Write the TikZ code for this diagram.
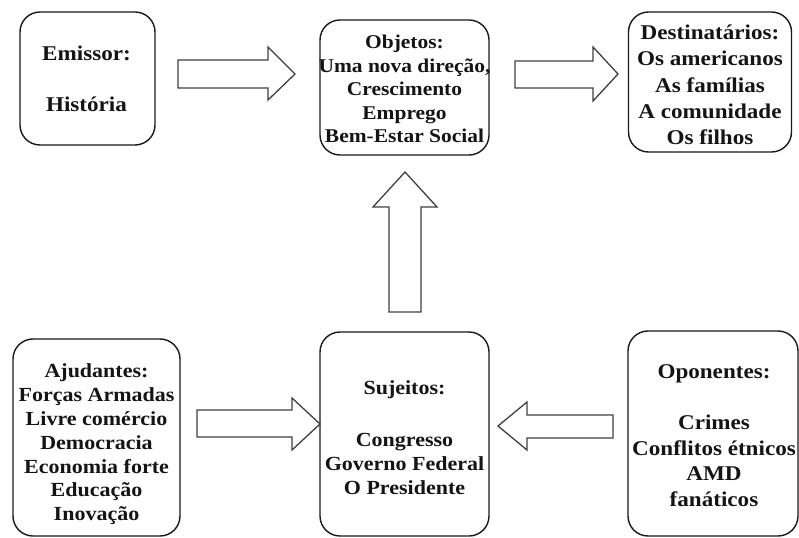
\documentclass[tikz,border=0pt]{standalone}
\usepackage{fontspec}
\setmainfont{Liberation Serif}[FakeStretch=1.1]
\begin{document}
\begin{tikzpicture}[x=1bp,y=-1bp,
  box/.style={draw=black!90, line width=1.4bp, rounded corners=20bp, inner sep=0pt},
  txt/.style={inner sep=0pt, align=center, text=black!92, font=\bfseries\fontsize{21bp}{25.5bp}\selectfont},
  blockarrow/.style={draw=black!75, line width=1.3bp, fill=white, line join=miter}]
\useasboundingbox (0,0) rectangle (799,538);
% boxes
\node[box, minimum width=135bp, minimum height=133bp] (emissor) at (87.5,78.5) {};
\node[box, minimum width=169bp, minimum height=135bp] (objetos) at (404.5,87.5) {};
\node[box, minimum width=163bp, minimum height=140bp] (dest) at (710,82) {};
\node[box, minimum width=167bp, minimum height=197bp] (ajud) at (96.5,437.5) {};
\node[box, minimum width=169bp, minimum height=204bp] (suj) at (404.5,434) {};
\node[box, minimum width=170bp, minimum height=205bp] (opon) at (713,433.5) {};
% texts
\node[txt] (emissortxt) at (86.5,78.5) {Emissor:\\ \\História};
\node[txt, font=\bfseries\fontsize{19.5bp}{23.5bp}\selectfont] (objetostxt) at (404.5,89) {Objetos:\\Uma nova direção,\\Crescimento\\Emprego\\Bem-Estar Social};
\node[txt, font=\bfseries\fontsize{21bp}{26.2bp}\selectfont] (desttxt) at (710,85) {Destinatários:\\Os americanos\\As famílias\\A comunidade\\Os filhos};
\node[txt, font=\bfseries\fontsize{20bp}{23.8bp}\selectfont] (ajudtxt) at (96.5,444.5) {Ajudantes:\\Forças Armadas\\Livre comércio\\Democracia\\Economia forte\\Educação\\Inovação};
\node[txt, font=\bfseries\fontsize{20bp}{24bp}\selectfont] (sujtxt) at (404.5,438) {Sujeitos:\\[28bp]Congresso\\Governo Federal\\O Presidente};
\node[txt] (opontxt) at (714,435.5) {Oponentes:\\ \\Crimes\\Conflitos étnicos\\AMD\\fanáticos};
% block arrows
\draw[blockarrow] (178,60) -- (268,60) -- (268,47) -- (295,74) -- (268,100) -- (268,88) -- (178,88) -- cycle;
\draw[blockarrow] (515,61) -- (593,61) -- (593,47) -- (618,74) -- (593,101) -- (593,88) -- (515,88) -- cycle;
\draw[blockarrow] (389,312) -- (389,207) -- (373,207) -- (405,172) -- (437,207) -- (421,207) -- (421,312) -- cycle;
\draw[blockarrow] (197,410) -- (292,410) -- (292,398) -- (320,424) -- (292,450) -- (292,437) -- (197,437) -- cycle;
\draw[blockarrow] (613,415) -- (527,415) -- (527,402) -- (498,426) -- (527,450) -- (527,438) -- (613,438) -- cycle;
\end{tikzpicture}
\end{document}
